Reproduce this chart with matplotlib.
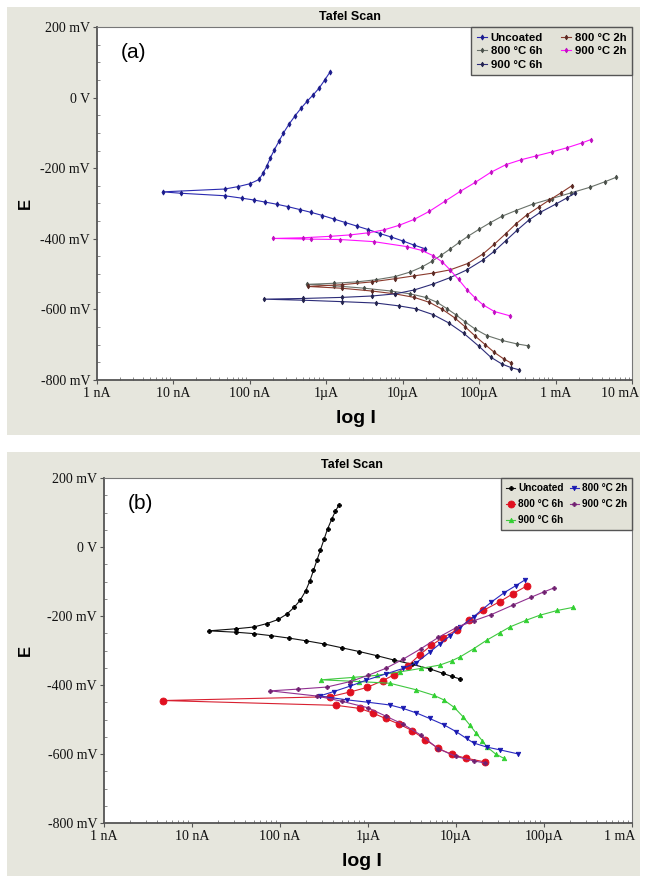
"""
Two Tafel scans (E vs log I), panel (a) and panel (b), stacked.
Writes out.png.
"""

import matplotlib
matplotlib.use("Agg")
import matplotlib.pyplot as plt
import matplotlib.transforms as mtransforms
from matplotlib.patches import Rectangle
import numpy as np

# ---- panel (a) data: log10(I / A) and E (mV), scan order cathodic end -> Ecorr -> anodic end
a_uncoated_logi = [-4.71, -4.85, -5.0, -5.15, -5.3, -5.45, -5.6, -5.75, -5.9, -6.05, -6.2, -6.35,
                   -6.5, -6.65, -6.8, -6.95, -7.1, -7.33, -7.9, -8.14,
                   -7.33, -7.15, -7.0, -6.88, -6.83, -6.78, -6.73, -6.68, -6.62, -6.56, -6.49,
                   -6.41, -6.33, -6.25, -6.17, -6.09, -6.02, -5.95]
a_uncoated_e = [-428, -418, -406, -395, -385, -374, -364, -354, -344, -334, -325, -317,
                -309, -302, -296, -290, -285, -278, -271, -267,
                -259, -252, -244, -232, -215, -195, -170, -148, -124, -100, -76,
                -52, -30, -10, 8, 28, 50, 73]

a_800_6h_logi = [-3.36, -3.5, -3.7, -3.9, -4.05, -4.18, -4.3, -4.42, -4.55, -4.7, -4.9, -5.15,
                 -5.5, -5.9, -6.25,
                 -5.9, -5.6, -5.35, -5.1, -4.9, -4.75, -4.62, -4.5, -4.38, -4.26, -4.14, -4.0,
                 -3.86, -3.7, -3.52, -3.3, -3.05, -2.8, -2.55, -2.35, -2.21]
a_800_6h_e = [-703, -698, -688, -674, -656, -636, -616, -598, -580, -566, -556, -548,
              -540, -533, -529,
              -526, -522, -516, -507, -494, -480, -464, -447, -429, -410, -392, -373,
              -355, -336, -320, -302, -286, -270, -254, -238, -226]

a_800_2h_logi = [-3.58, -3.68, -3.8, -3.92, -4.05, -4.18, -4.32, -4.48, -4.65, -4.85, -5.1, -5.4,
                 -5.8, -6.24,
                 -5.8, -5.4, -5.1, -4.85, -4.6, -4.38, -4.15, -3.95, -3.8, -3.65, -3.52, -3.38,
                 -3.22, -3.08, -2.93, -2.79]
a_800_2h_e = [-752, -740, -722, -700, -676, -650, -624, -600, -580, -566, -556, -548,
              -540, -535,
              -530, -522, -513, -505, -497, -488, -470, -443, -415, -385, -358, -333,
              -310, -290, -270, -250]

a_900_6h_logi = [-3.48, -3.58, -3.7, -3.85, -4.0, -4.2, -4.4, -4.6, -4.83, -5.05, -5.35, -5.8,
                 -6.3, -6.82,
                 -6.3, -5.8, -5.4, -5.1, -4.85, -4.6, -4.38, -4.16, -3.95, -3.8, -3.65, -3.5,
                 -3.35, -3.2, -3.0, -2.85, -2.75]
a_900_6h_e = [-771, -765, -755, -735, -705, -668, -638, -615, -598, -590, -582, -578,
              -574, -571,
              -569, -566, -562, -556, -545, -528, -510, -488, -460, -435, -405, -375,
              -347, -325, -302, -284, -271]

a_900_2h_logi = [-3.6, -3.8, -3.95, -4.05, -4.16, -4.27, -4.38, -4.48, -4.6, -4.75, -4.95, -5.38,
                 -5.82, -6.2, -6.7,
                 -6.3, -5.95, -5.69, -5.45, -5.25, -5.05, -4.85, -4.65, -4.45, -4.25, -4.05,
                 -3.85, -3.65, -3.45, -3.25, -3.05, -2.85, -2.65, -2.54]
a_900_2h_e = [-618, -606, -587, -568, -544, -515, -488, -466, -448, -433, -422, -408,
              -402, -401, -399,
              -397, -393, -389, -383, -375, -362, -345, -322, -294, -266, -240,
              -212, -190, -176, -165, -154, -142, -128, -119]

# ---- panel (b) data
b_uncoated_logi = [-4.96, -5.05, -5.15, -5.3, -5.5, -5.7, -5.9, -6.1, -6.3, -6.5, -6.7, -6.9,
                   -7.1, -7.3, -7.5, -7.81,
                   -7.5, -7.3, -7.15, -7.02, -6.92, -6.84, -6.77, -6.71, -6.66, -6.62, -6.58,
                   -6.54, -6.5, -6.46, -6.41, -6.37, -6.33]
b_uncoated_e = [-382, -375, -366, -353, -340, -328, -315, -303, -292, -281, -272, -264,
                -257, -251, -247, -243,
                -237, -232, -222, -210, -194, -175, -154, -128, -98, -68, -38,
                -8, 22, 52, 82, 104, 122]

b_800_2h_logi = [-4.29, -4.5, -4.65, -4.8, -4.88, -5.0, -5.14, -5.3, -5.45, -5.6, -5.75, -6.0,
                 -6.24, -6.55,
                 -6.39, -6.2, -6.02, -5.8, -5.6, -5.45, -5.3, -5.18, -5.07, -4.95, -4.8, -4.6,
                 -4.45, -4.32, -4.22]
b_800_2h_e = [-600, -588, -580, -568, -555, -535, -515, -497, -481, -468, -458, -450,
              -443, -432,
              -419, -403, -386, -368, -352, -335, -305, -280, -258, -232, -202, -160,
              -132, -112, -96]

b_800_6h_logi = [-4.67, -4.89, -5.05, -5.2, -5.35, -5.5, -5.65, -5.8, -5.94, -6.09, -6.36, -8.33,
                 -6.43, -6.2, -6.01, -5.83, -5.7, -5.55, -5.41, -5.28, -5.15, -4.99, -4.85,
                 -4.69, -4.5, -4.35, -4.19]
b_800_6h_e = [-623, -612, -601, -584, -558, -532, -513, -497, -482, -468, -459, -445,
              -434, -420, -407, -387, -370, -345, -312, -285, -263, -240, -212,
              -184, -158, -135, -112]

b_900_2h_logi = [-4.67, -4.8, -5.0, -5.2, -5.4, -5.6, -5.8, -6.0, -6.3, -6.58, -7.11,
                 -6.8, -6.47, -6.2, -6.0, -5.8, -5.6, -5.4, -5.2, -5.0, -4.8, -4.6, -4.35,
                 -4.15, -4.0, -3.89]
b_900_2h_e = [-626, -620, -607, -585, -545, -514, -490, -466, -447, -432, -417,
              -412, -406, -390, -372, -352, -325, -295, -262, -234, -214, -196, -168,
              -146, -130, -119]

b_900_6h_logi = [-4.46, -4.55, -4.65, -4.7, -4.77, -4.84, -4.92, -5.02, -5.14, -5.25, -5.45,
                 -5.75, -6.1, -6.53,
                 -6.17, -5.9, -5.64, -5.4, -5.18, -5.05, -4.95, -4.8, -4.65, -4.5, -4.39,
                 -4.2, -4.05, -3.85, -3.67]
b_900_6h_e = [-612, -600, -579, -562, -540, -517, -492, -465, -443, -430, -414,
              -395, -390, -385,
              -378, -372, -362, -352, -342, -330, -318, -295, -270, -248, -232,
              -212, -198, -184, -175]

a_xticklabels = ["1 nA", "10 nA", "100 nA", "1\u00b5A", "10\u00b5A", "100\u00b5A", "1 mA", "10 mA"]
b_xticklabels = ["1 nA", "10 nA", "100 nA", "1\u00b5A", "10\u00b5A", "100\u00b5A", "1 mA"]
yticklabels = ["-800 mV", "-600 mV", "-400 mV", "-200 mV", "0 V", "200 mV"]

W, H = 646, 876
PANEL_BG = "#e6e6dd"
SERIF = "Liberation Serif"
SANS = "Liberation Sans"


def px_box(x0, y0, x1, y1):
    """pixel box (top-left origin) -> figure fraction rect"""
    return [x0 / W, 1 - y1 / H, (x1 - x0) / W, (y1 - y0) / H]


def style_axes(ax, n_dec, xlabels):
    ax.set_zorder(2)
    ax.set_facecolor("white")
    ax.set_xscale("log")
    ax.set_xlim(1e-9, 10.0 ** (-9 + n_dec))
    ax.set_ylim(-800, 200)
    ax.set_xticks([10.0 ** (-9 + k) for k in range(n_dec + 1)])
    ax.set_xticklabels(xlabels, family=SERIF, fontsize=10)
    ax.set_yticks(np.arange(-800, 201, 200))
    ax.set_yticklabels(yticklabels, family=SERIF, fontsize=10)
    ax.set_yticks(np.arange(-800, 201, 50), minor=True)
    ax.tick_params(axis="both", which="major", length=3, width=0.8, color="#555555",
                   pad=2, labelcolor="#111111")
    ax.tick_params(axis="both", which="minor", length=2, width=0.6, color="#777777",
                   direction="in")
    ax.tick_params(axis="x", which="minor", labelbottom=False)
    for s in ax.spines.values():
        s.set_color("#777777")
        s.set_linewidth(0.8)
    for s in ("left", "bottom"):
        ax.spines[s].set_color("#555555")
        ax.spines[s].set_linewidth(1.3)
    # keep the right-most current label inside the picture
    last = ax.get_xticklabels()[-1]
    last.set_transform(last.get_transform()
                       + mtransforms.ScaledTranslation(-12 / 100, 0, fig.dpi_scale_trans))


def draw(ax, logi, e, color, mcolor, marker, ms, label, lw=0.8):
    ax.plot(10.0 ** np.array(logi), e, color=color, lw=lw, marker=marker, ms=ms,
            mfc=mcolor, mec=mcolor, mew=0.6, label=label)


def add_legend(ax, handles_order, fontsize, labelspacing, colspacing):
    h, l = ax.get_legend_handles_labels()
    idx = [l.index(name) for name in handles_order]
    leg = ax.legend([h[i] for i in idx], [l[i] for i in idx], ncol=2, loc="upper right",
                    bbox_to_anchor=(1.0, 1.0), borderaxespad=0.0, fancybox=False,
                    framealpha=1, facecolor="#e2e2d8", edgecolor="#555555",
                    handlelength=0.9, handletextpad=0.3, columnspacing=colspacing,
                    labelspacing=labelspacing, borderpad=0.5,
                    prop={"family": SANS, "weight": "bold", "size": fontsize})
    leg.get_frame().set_linewidth(1.0)
    return leg


fig = plt.figure(figsize=(W / 100, H / 100), dpi=100)
fig.patch.set_facecolor("white")
fig.patches.append(Rectangle((7 / W, 1 - 435 / H), 633 / W, 428 / H,
                             transform=fig.transFigure, facecolor=PANEL_BG, edgecolor="none", zorder=-5))
fig.patches.append(Rectangle((7 / W, 0), 633 / W, 424 / H,
                             transform=fig.transFigure, facecolor=PANEL_BG, edgecolor="none", zorder=-5))

# ---------------- panel (a)
ax = fig.add_axes(px_box(97, 27, 632, 380))
style_axes(ax, 7, a_xticklabels)
draw(ax, a_uncoated_logi, a_uncoated_e, "#2a2ab0", "#1c1c8c", "d", 2.6, "Uncoated")
draw(ax, a_800_6h_logi, a_800_6h_e, "#6a726a", "#4a504a", "d", 2.4, "800 \u00b0C 6h")
draw(ax, a_800_2h_logi, a_800_2h_e, "#8a3a2c", "#5a2a24", "d", 2.4, "800 \u00b0C 2h")
draw(ax, a_900_6h_logi, a_900_6h_e, "#2c2c78", "#24244e", "d", 2.4, "900 \u00b0C 6h")
draw(ax, a_900_2h_logi, a_900_2h_e, "#ff10ff", "#c010c0", "d", 2.4, "900 \u00b0C 2h")
add_legend(ax, ["Uncoated", "800 \u00b0C 6h", "900 \u00b0C 6h", "800 \u00b0C 2h", "900 \u00b0C 2h"],
           8.2, 0.3, 1.6)
ax.text(0.045, 0.955, "(a)", transform=ax.transAxes, fontsize=15, family=SANS,
        ha="left", va="top")
fig.text(350 / W, 1 - 17 / H, "Tafel Scan", ha="center", va="center", family=SANS,
         fontsize=9, weight="bold", zorder=5)
fig.text(25 / W, 1 - 203 / H, "E", ha="center", va="center", rotation=90, family=SANS,
         fontsize=12, weight="bold", zorder=5)
fig.text(356 / W, 1 - 418 / H, "log I", ha="center", va="center", family=SANS,
         fontsize=14, weight="bold", zorder=5)

# ---------------- panel (b)
ax = fig.add_axes(px_box(104, 478, 632, 823))
style_axes(ax, 6, b_xticklabels)
draw(ax, b_uncoated_logi, b_uncoated_e, "#111111", "#000000", "P", 3.0, "Uncoated")
draw(ax, b_800_6h_logi, b_800_6h_e, "#d82030", "#e01020", "o", 5.0, "800 \u00b0C 6h")
draw(ax, b_900_6h_logi, b_900_6h_e, "#40c840", "#30d030", "^", 3.2, "900 \u00b0C 6h")
draw(ax, b_800_2h_logi, b_800_2h_e, "#2a2ac0", "#1818b0", "v", 3.2, "800 \u00b0C 2h")
draw(ax, b_900_2h_logi, b_900_2h_e, "#903090", "#702070", "P", 2.8, "900 \u00b0C 2h")
add_legend(ax, ["Uncoated", "800 \u00b0C 6h", "900 \u00b0C 6h", "800 \u00b0C 2h", "900 \u00b0C 2h"],
           7.2, 0.6, 0.6)
ax.text(0.045, 0.955, "(b)", transform=ax.transAxes, fontsize=15, family=SANS,
        ha="left", va="top")
fig.text(352 / W, 1 - 465 / H, "Tafel Scan", ha="center", va="center", family=SANS,
         fontsize=9, weight="bold", zorder=5)
fig.text(25 / W, 1 - 650 / H, "E", ha="center", va="center", rotation=90, family=SANS,
         fontsize=12, weight="bold", zorder=5)
fig.text(362 / W, 1 - 862 / H, "log I", ha="center", va="center", family=SANS,
         fontsize=14, weight="bold", zorder=5)

fig.savefig("out.png", dpi=100, facecolor=fig.get_facecolor())
